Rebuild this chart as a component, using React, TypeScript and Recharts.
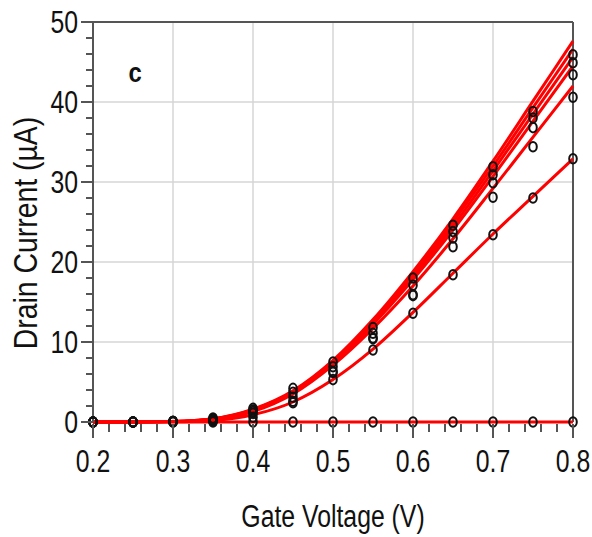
import {
  ComposedChart,
  Line,
  XAxis,
  YAxis,
  CartesianGrid,
  ReferenceLine,
} from "recharts";

// gate voltage sweep (V)
const gateVoltage = [0.2, 0.25, 0.3, 0.35, 0.4, 0.45, 0.5, 0.55, 0.6, 0.65, 0.7, 0.75, 0.8];

// fitted curves (µA)
const fitA = [0, 0, 0.05, 0.4, 1.6, 3.9, 7.7, 12.8, 18.8, 25.4, 32.6, 40.1, 47.6];
const fitB = [0, 0, 0.05, 0.4, 1.55, 3.8, 7.6, 12.6, 18.5, 25.0, 32.0, 39.3, 46.6];
const fitC = [0, 0, 0.05, 0.35, 1.5, 3.75, 7.5, 12.4, 18.2, 24.5, 31.4, 38.5, 45.6];
const fitD = [0, 0, 0.05, 0.35, 1.45, 3.7, 7.4, 12.2, 17.8, 24.0, 30.7, 37.6, 44.5];
const fitE = [0, 0, 0.05, 0.3, 1.3, 3.5, 7.1, 11.7, 17.0, 22.9, 29.2, 35.6, 42.0];
const fitF = [0, 0, 0.03, 0.2, 0.9, 2.5, 5.3, 9.1, 13.7, 18.6, 23.5, 28.2, 32.9];
const fitOff = [0, 0, 0, 0, 0, 0, 0, 0, 0, 0, 0, 0, 0];

// measured points (µA)
const measA = [0, 0, 0.1, 0.5, 1.7, 4.2, 7.5, 11.8, 18.0, 24.6, 31.9, 38.8, 45.9];
const measB = [0, 0, 0.05, 0.4, 1.5, 3.7, 6.9, 11.1, 17.1, 23.8, 30.9, 38.0, 44.9];
const measC = [0, 0, 0.05, 0.3, 1.3, 3.1, 6.3, 10.5, 15.9, 23.0, 29.9, 36.8, 43.4];
const measD = [0, 0, 0.05, 0.2, 1.1, 2.6, 6.2, 10.4, 15.8, 21.9, 28.1, 34.4, 40.6];
const measE = [0, 0, 0, 0.1, 0.6, 2.4, 5.3, 9.0, 13.6, 18.4, 23.4, 28.0, 32.9];
const measOff = [0, 0, 0, 0, 0, 0, 0, 0, 0, 0, 0, 0, 0];

const xTicks = [
  0.2, 0.22, 0.24, 0.26, 0.28, 0.3, 0.32, 0.34, 0.36, 0.38, 0.4, 0.42, 0.44, 0.46, 0.48,
  0.5, 0.52, 0.54, 0.56, 0.58, 0.6, 0.62, 0.64, 0.66, 0.68, 0.7, 0.72, 0.74, 0.76, 0.78, 0.8,
];
const yTicks = [
  0, 2, 4, 6, 8, 10, 12, 14, 16, 18, 20, 22, 24, 26, 28, 30, 32, 34, 36, 38, 40, 42, 44, 46, 48, 50,
];
const xGrid = [0.3, 0.4, 0.5, 0.6, 0.7];
const yGrid = [10, 20, 30, 40];

const fitKeys = ["fitA", "fitB", "fitC", "fitD", "fitE", "fitF", "fitOff"];
const measKeys = ["measA", "measB", "measC", "measD", "measE", "measOff"];

const rows = gateVoltage.map((v, i) => ({
  v,
  fitA: fitA[i],
  fitB: fitB[i],
  fitC: fitC[i],
  fitD: fitD[i],
  fitE: fitE[i],
  fitF: fitF[i],
  fitOff: fitOff[i],
  measA: measA[i],
  measB: measB[i],
  measC: measC[i],
  measD: measD[i],
  measE: measE[i],
  measOff: measOff[i],
}));

const FONT = "'Liberation Sans', Arial, sans-serif";
const AXIS = "#555";

const isMajorX = (v: number) => Math.abs(v * 10 - Math.round(v * 10)) < 1e-6;

function XTick(props: any) {
  const { x, y, payload } = props;
  const major = isMajorX(payload.value);
  return (
    <g>
      <line x1={x} x2={x} y1={y + 2} y2={y + (major ? 16 : 10)} stroke={AXIS} strokeWidth={2} />
      {major && (
        <text
          transform={`translate(${x},${y + 50}) scale(0.8,1)`}
          textAnchor="middle"
          fontSize={31}
          fontFamily={FONT}
          fill="#111"
        >
          {payload.value.toFixed(1)}
        </text>
      )}
    </g>
  );
}

function YTick(props: any) {
  const { x, y, payload } = props;
  const major = payload.value % 10 === 0;
  return (
    <g>
      <line x1={x - (major ? 12 : 7)} x2={x} y1={y} y2={y} stroke={AXIS} strokeWidth={2} />
      {major && (
        <text
          transform={`translate(${x - 15},${y + 11}) scale(0.8,1)`}
          textAnchor="end"
          fontSize={31}
          fontFamily={FONT}
          fill="#111"
        >
          {payload.value}
        </text>
      )}
    </g>
  );
}

function Ring(props: any) {
  const { cx, cy, index, dataKey } = props;
  if (cx == null || cy == null) return <g key={`${dataKey}-${index}`} />;
  return (
    <ellipse
      key={`${dataKey}-${index}`}
      cx={cx}
      cy={cy}
      rx={3.8}
      ry={4.8}
      fill="none"
      stroke="#111"
      strokeWidth={2}
    />
  );
}

export default function App() {
  return (
    <div style={{ position: "absolute", left: 0, top: 0, background: "#fff" }}>
      <ComposedChart
        width={592}
        height={537}
        data={rows}
        margin={{ top: 22, right: 19, bottom: 0, left: 0 }}
      >
        <CartesianGrid
          stroke="#d6d6d6"
          strokeWidth={1.5}
          verticalValues={xGrid}
          horizontalValues={yGrid}
        />
        <XAxis
          dataKey="v"
          type="number"
          domain={[0.2, 0.8]}
          ticks={xTicks}
          interval={0}
          tickSize={0}
          tickMargin={0}
          tickLine={false}
          tick={<XTick />}
          height={115}
          axisLine={false}
        />
        <YAxis
          type="number"
          domain={[0, 50]}
          ticks={yTicks}
          interval={0}
          tickSize={0}
          tickMargin={0}
          tickLine={false}
          tick={<YTick />}
          width={93}
          axisLine={{ stroke: AXIS, strokeWidth: 2 }}
        />
        <ReferenceLine y={50} stroke={AXIS} strokeWidth={2} />
        <ReferenceLine x={0.8} stroke={AXIS} strokeWidth={2} />
        {fitKeys.map((k) => (
          <Line
            key={k}
            dataKey={k}
            type="monotone"
            stroke="#ff0000"
            strokeWidth={3}
            dot={false}
            activeDot={false}
            isAnimationActive={false}
          />
        ))}
        {measKeys.map((k) => (
          <Line
            key={k}
            dataKey={k}
            stroke="none"
            strokeWidth={0}
            dot={(p: any) => <Ring {...p} dataKey={k} />}
            activeDot={false}
            isAnimationActive={false}
          />
        ))}
        <text
          transform="translate(135,82) scale(0.85,1)"
          textAnchor="middle"
          fontSize={28}
          fontWeight="bold"
          fontFamily={FONT}
          fill="#111"
        >
          c
        </text>
        <text
          transform="translate(333,527) scale(0.8,1)"
          textAnchor="middle"
          fontSize={31}
          fontFamily={FONT}
          fill="#111"
        >
          Gate Voltage (V)
        </text>
        <text
          transform="translate(37,233) rotate(-90) scale(0.86,1)"
          textAnchor="middle"
          fontSize={33}
          fontFamily={FONT}
          fill="#111"
        >
          Drain Current (µA)
        </text>
      </ComposedChart>
    </div>
  );
}
